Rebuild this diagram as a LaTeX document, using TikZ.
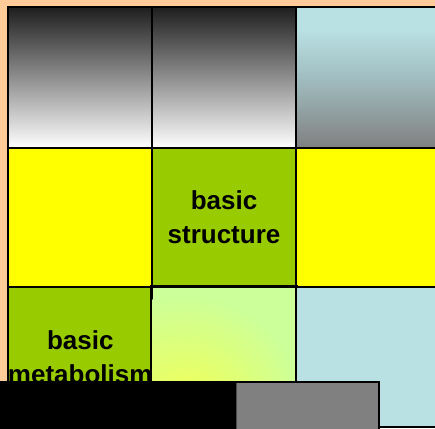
\documentclass[tikz,border=0pt]{standalone}
\usepackage{fontspec}
\setmainfont{Liberation Sans}
\definecolor{bgorange}{HTML}{FFCC99}
\definecolor{cyellow}{HTML}{FFFF00}
\definecolor{cgreen}{HTML}{99CC00}
\definecolor{cblue}{HTML}{B9E0E3}
\definecolor{cgrey}{HTML}{808080}
\definecolor{lgreen}{HTML}{CCFF99}
\definecolor{gyellow}{HTML}{F5FF4F}
\definecolor{dark}{HTML}{1E1E1E}
\definecolor{midgrey}{HTML}{A2A2A2}
\definecolor{midblue}{HTML}{A2C0C3}
\pgfdeclareverticalshading{bluegrey}{100bp}{color(0bp)=(cgrey); color(25bp)=(cgrey); color(51bp)=(midblue); color(67bp)=(cblue); color(100bp)=(cblue)}
\begin{document}
\begin{tikzpicture}[x=1pt,y=-1pt,
  cell/.style={draw=black,line width=2pt,anchor=north west,inner sep=0pt,
    minimum width=144pt,align=center,
    font=\bfseries\fontsize{26}{34}\selectfont},
  row1/.style={cell,minimum height=141pt},
  row2/.style={cell,minimum height=139pt},
  row3/.style={cell,minimum height=140pt}]
\useasboundingbox (0,0) rectangle (435,428);
\fill[bgorange] (0,0) rectangle (435,428);
% row 1
\node[row1,top color=dark,middle color=midgrey,bottom color=white] (c11) at (7,6) {};
\node[row1,top color=dark,middle color=midgrey,bottom color=white] (c12) at (151,6) {};
\node[row1,shading=bluegrey] (c13) at (295,6) {};
% row 2
\node[row2,fill=cyellow] (c21) at (7,147) {};
\node[row2,fill=cgreen] (c22) at (151,147) {basic\\structure};
\node[row2,fill=cyellow] (c23) at (295,147) {};
% row 3
\node[row3,fill=cgreen] (c31) at (7,286) {basic\\metabolism};
\node[row3,fill=lgreen] (c32) at (151,286) {};
\begin{scope}
  \clip (c32.north west) rectangle (c32.south east);
  \shade[inner color=gyellow,outer color=lgreen] (185,415) circle (120);
\end{scope}
\draw[line width=2pt] (c32.north west) rectangle (c32.south east);
\node[row3,fill=cblue] (c33) at (295,286) {};
% bottom bars
\fill[black] (0,381) rectangle (237,430);
\draw[black!70,line width=1pt,fill=cgrey] (236.5,382) rectangle (379,432);
\draw[black,line width=2pt] (236,382) -- (379,382) -- (379,430);
\end{tikzpicture}
\end{document}
